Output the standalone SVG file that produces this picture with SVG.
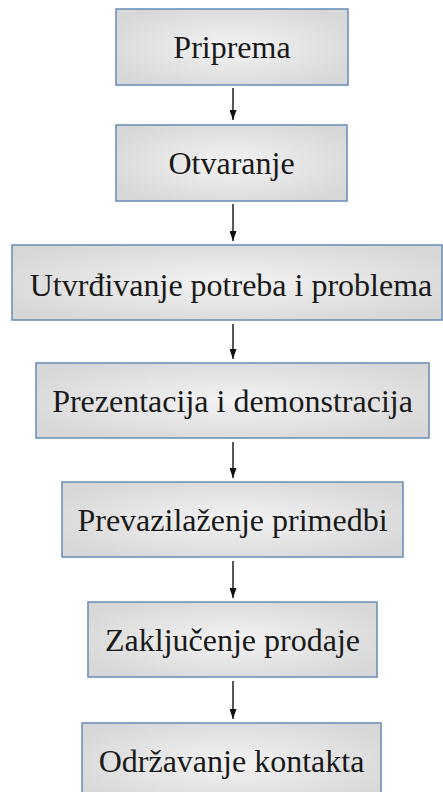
<svg xmlns="http://www.w3.org/2000/svg" width="443" height="792" viewBox="0 0 443 792">
<style>
.box{fill:url(#g);stroke:#6f92bb;stroke-width:1.6}
.lbl{font-family:"Liberation Serif","Times New Roman",serif;font-size:32px;fill:#1a1a1a;text-anchor:middle}
</style>
<defs>
<radialGradient id="g" cx="0.5" cy="0.5" r="0.6">
<stop offset="0" stop-color="#f3f3f3"/>
<stop offset="1" stop-color="#d7d7d7"/>
</radialGradient>
<marker id="ah2" viewBox="0 0 7 10" refX="3.5" refY="10" markerWidth="7" markerHeight="10" markerUnits="userSpaceOnUse">
<path d="M0,0 L7,0 L3.5,10 Z" fill="#111"/>
</marker>
</defs>
<rect width="443" height="792" fill="#fff"/>
<g id="connectors" stroke="#111" stroke-width="1.4" fill="none">
<line x1="233" y1="88" x2="233" y2="120" marker-end="url(#ah2)"/>
<line x1="233" y1="204" x2="233" y2="241" marker-end="url(#ah2)"/>
<line x1="233" y1="324" x2="233" y2="359" marker-end="url(#ah2)"/>
<line x1="233" y1="442" x2="233" y2="478" marker-end="url(#ah2)"/>
<line x1="233" y1="561" x2="233" y2="598" marker-end="url(#ah2)"/>
<line x1="233" y1="681" x2="233" y2="719" marker-end="url(#ah2)"/>
</g>
<g id="n1"><rect class="box" x="116" y="9" width="232" height="76"/><text class="lbl" x="232" y="58">Priprema</text></g>
<g id="n2"><rect class="box" x="116" y="125" width="231" height="76"/><text class="lbl" x="231.5" y="174">Otvaranje</text></g>
<g id="n3"><rect class="box" x="12" y="245" width="430" height="75"/><text class="lbl" x="231" y="296">Utvrđivanje potreba i problema</text></g>
<g id="n4"><rect class="box" x="36" y="363" width="393" height="75"/><text class="lbl" x="232.5" y="412">Prezentacija i demonstracija</text></g>
<g id="n5"><rect class="box" x="62" y="482" width="341" height="75"/><text class="lbl" x="232.5" y="531">Prevazilaženje primedbi</text></g>
<g id="n6"><rect class="box" x="88" y="602" width="289" height="75"/><text class="lbl" x="232.5" y="651">Zaključenje prodaje</text></g>
<g id="n7"><rect class="box" x="82" y="723" width="299" height="80"/><text class="lbl" x="231.5" y="772">Održavanje kontakta</text></g>
</svg>
